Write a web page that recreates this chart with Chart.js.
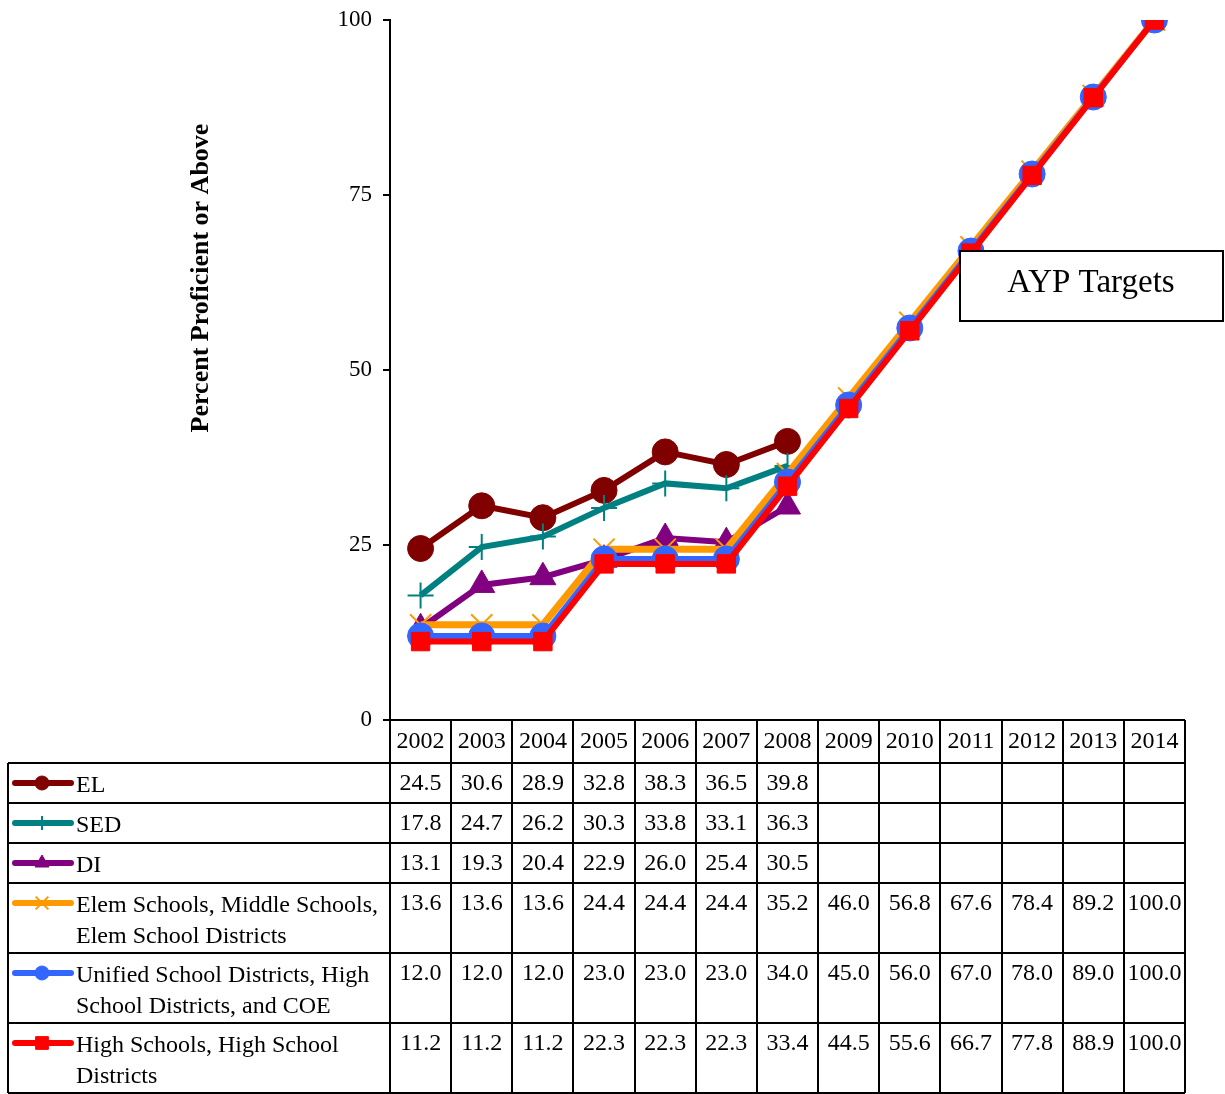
<!DOCTYPE html>
<html>
<head>
<meta charset="utf-8">
<script src="https://cdn.jsdelivr.net/npm/chart.js@4.4.0/dist/chart.umd.min.js"></script>
<style>
  html, body { margin: 0; padding: 0; background: #fff; }
  #wrap { width: 1225px; height: 1094px; }
</style>
</head>
<body>
<div id="wrap"><canvas id="ayp-chart" width="1225" height="1094"></canvas></div>
<script>
// data
const years = ['2002', '2003', '2004', '2005', '2006', '2007', '2008', '2009', '2010', '2011', '2012', '2013', '2014'];
const elValues = [24.5, 30.6, 28.9, 32.8, 38.3, 36.5, 39.8, null, null, null, null, null, null];
const sedValues = [17.8, 24.7, 26.2, 30.3, 33.8, 33.1, 36.3, null, null, null, null, null, null];
const diValues = [13.1, 19.3, 20.4, 22.9, 26.0, 25.4, 30.5, null, null, null, null, null, null];
const elemValues = [13.6, 13.6, 13.6, 24.4, 24.4, 24.4, 35.2, 46.0, 56.8, 67.6, 78.4, 89.2, 100.0];
const unifiedValues = [12.0, 12.0, 12.0, 23.0, 23.0, 23.0, 34.0, 45.0, 56.0, 67.0, 78.0, 89.0, 100.0];
const highValues = [11.2, 11.2, 11.2, 22.3, 22.3, 22.3, 33.4, 44.5, 55.6, 66.7, 77.8, 88.9, 100.0];
const yTicks = [0, 25, 50, 75, 100];
const seriesNames = [
    ['EL'],
    ['SED'],
    ['DI'],
    ['Elem Schools, Middle Schools,', 'Elem School Districts'],
    ['Unified School Districts, High', 'School Districts, and COE'],
    ['High Schools, High School', 'Districts']
];
const axisTitle = 'Percent Proficient or Above';
const boxLabel = 'AYP Targets';

const FONT = "'Liberation Serif', 'Times New Roman', serif";

const styles = [
    { color: '#800000', point: 'circle', r: 13, lw: 6, pbw: 1, legendR: 7 },
    { color: '#008080', point: 'cross', r: 13, lw: 6, pbw: 2, legendR: 7 },
    { color: '#800080', point: 'triangle', r: 15, lw: 6, pbw: 1, legendR: 8 },
    { color: '#FF9900', point: 'crossRot', r: 15, lw: 7, pbw: 2, legendR: 9 },
    { color: '#3366FF', point: 'circle', r: 13, lw: 6, pbw: 1, legendR: 7 },
    { color: '#FF0000', point: 'rect', r: 13, lw: 6, pbw: 1, legendR: 9 }
];
const allValues = [elValues, sedValues, diValues, elemValues, unifiedValues, highValues];

const datasets = allValues.map((vals, i) => ({
    label: seriesNames[i].join(' '),
    data: vals,
    borderColor: styles[i].color,
    backgroundColor: styles[i].color,
    borderWidth: styles[i].lw,
    pointStyle: styles[i].point,
    pointRadius: styles[i].r,
    pointBorderWidth: styles[i].pbw,
    pointBorderColor: styles[i].color,
    pointBackgroundColor: styles[i].color,
    tension: 0,
    spanGaps: false,
    order: allValues.length - i  // later series on top
}));

function drawMarker(ctx, style, radius, x, y) {
    ctx.save();
    ctx.fillStyle = style.color;
    ctx.strokeStyle = style.color;
    ctx.lineWidth = style.pbw;
    if (Chart.helpers && Chart.helpers.drawPoint) {
        Chart.helpers.drawPoint(ctx, { pointStyle: style.point, rotation: 0, radius: radius, borderWidth: style.pbw }, x, y);
    } else {
        ctx.beginPath();
        ctx.arc(x, y, radius, 0, Math.PI * 2);
        ctx.fill();
    }
    ctx.restore();
}

const tablePlugin = {
    id: 'dataTable',
    afterDraw(chart) {
        const ctx = chart.ctx;
        const area = chart.chartArea;
        const xs = chart.scales.x;
        const colW = (area.right - area.left) / years.length;
        const rowTops = [763, 803, 843, 883, 953, 1023];
        const tableBottom = 1093;
        const tableLeft = 8;

        ctx.save();
        // grid lines
        ctx.strokeStyle = '#000';
        ctx.lineWidth = 2;
        ctx.beginPath();
        for (let k = 0; k <= years.length; k++) {
            const x = Math.round(area.left + k * colW);
            ctx.moveTo(x, area.bottom);
            ctx.lineTo(x, tableBottom);
        }
        ctx.moveTo(area.left, area.bottom);
        ctx.lineTo(area.right, area.bottom);
        rowTops.concat([tableBottom]).forEach(y => {
            ctx.moveTo(tableLeft, y);
            ctx.lineTo(area.right, y);
        });
        ctx.moveTo(tableLeft, rowTops[0]);
        ctx.lineTo(tableLeft, tableBottom);
        ctx.stroke();

        // header years
        ctx.fillStyle = '#000';
        ctx.font = '24px ' + FONT;
        ctx.textAlign = 'center';
        ctx.textBaseline = 'middle';
        years.forEach((yr, i) => {
            ctx.fillText(yr, xs.getPixelForValue(i), area.bottom + 22);
        });

        // rows
        allValues.forEach((vals, s) => {
            const top = rowTops[s];
            const st = styles[s];
            // legend line sample
            ctx.save();
            ctx.strokeStyle = st.color;
            ctx.lineWidth = 6;
            ctx.lineCap = 'round';
            ctx.beginPath();
            ctx.moveTo(15, top + 20);
            ctx.lineTo(71, top + 20);
            ctx.stroke();
            ctx.restore();
            drawMarker(ctx, st, st.legendR, 42, top + 20);

            ctx.fillStyle = '#000';
            ctx.font = '24px ' + FONT;
            ctx.textAlign = 'left';
            ctx.textBaseline = 'middle';
            seriesNames[s].forEach((line, j) => {
                ctx.fillText(line, 76, top + 23 + j * 31);
            });
            ctx.textAlign = 'center';
            vals.forEach((v, i) => {
                if (v === null || v === undefined) return;
                ctx.fillText(v.toFixed(1), xs.getPixelForValue(i), top + 21);
            });
        });

        // y axis title
        ctx.save();
        ctx.translate(201, 278);
        ctx.rotate(-Math.PI / 2);
        ctx.font = 'bold 26px ' + FONT;
        ctx.textAlign = 'center';
        ctx.textBaseline = 'middle';
        ctx.fillStyle = '#000';
        ctx.fillText(axisTitle, 0, 0);
        ctx.restore();

        // AYP Targets box
        ctx.fillStyle = '#fff';
        ctx.fillRect(959, 250, 265, 72);
        ctx.strokeStyle = '#000';
        ctx.lineWidth = 2;
        ctx.strokeRect(960, 251, 263, 70);
        ctx.fillStyle = '#000';
        ctx.font = '33px ' + FONT;
        ctx.textAlign = 'center';
        ctx.textBaseline = 'middle';
        ctx.fillText(boxLabel, 1091, 283);
        ctx.restore();
    }
};

new Chart(document.getElementById('ayp-chart'), {
    type: 'line',
    data: { labels: years, datasets: datasets },
    options: {
        responsive: false,
        animation: false,
        devicePixelRatio: 1,
        layout: { padding: { top: 20, right: 40, bottom: 374, left: 0 } },
        plugins: {
            legend: { display: false },
            tooltip: { enabled: false }
        },
        scales: {
            x: {
                type: 'category',
                offset: true,
                display: false
            },
            y: {
                min: 0,
                max: 100,
                afterFit(scale) {
                    scale.width = 390;
                    scale.paddingTop = 0;
                    scale.paddingBottom = 0;
                },
                afterBuildTicks(scale) { scale.ticks = yTicks.map(v => ({ value: v })); },
                grid: { drawOnChartArea: false, drawTicks: true, tickLength: 7, color: '#000', lineWidth: 2 },
                border: { display: true, color: '#000', width: 2 },
                ticks: {
                    color: '#000',
                    padding: 11,
                    font: { family: FONT, size: 23 }
                }
            }
        }
    },
    plugins: [tablePlugin]
});
</script>
</body>
</html>
